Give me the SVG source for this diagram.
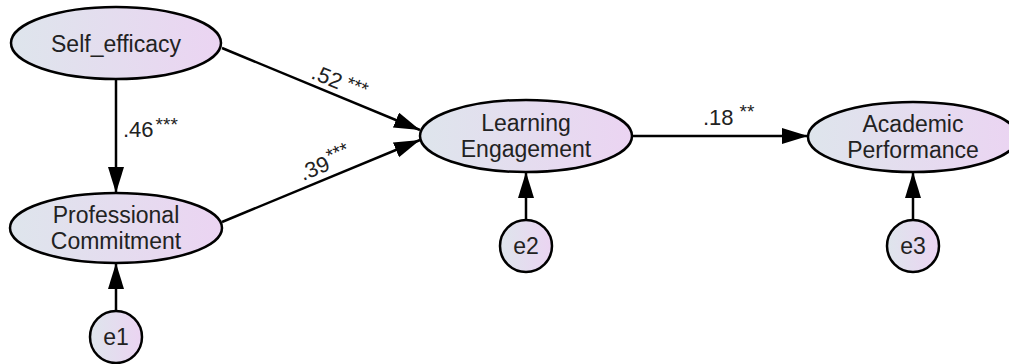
<svg xmlns="http://www.w3.org/2000/svg" width="1009" height="364" viewBox="0 0 1009 364">
  <defs>
    <linearGradient id="latentFill" x1="0" y1="0" x2="1" y2="0">
      <stop offset="0" stop-color="#dee5ec"/>
      <stop offset="1" stop-color="#ebd4f2"/>
    </linearGradient>
    <marker id="arrow" markerUnits="userSpaceOnUse" markerWidth="28" markerHeight="18" refX="26" refY="8" orient="auto">
      <path d="M0,0 L26,8 L0,16 Z" fill="#000"/>
    </marker>
  </defs>
  <style>
    .latent { fill: url(#latentFill); stroke: #000; stroke-width: 2.5; }
    .label { font-family: "Liberation Sans", Arial, sans-serif; font-size: 23px; fill: #222; text-anchor: middle; }
    .coef { font-family: "Liberation Sans", Arial, sans-serif; font-size: 22px; fill: #222; }
    .sig { font-size: 19px; }
    .path { stroke: #000; stroke-width: 2.5; fill: none; marker-end: url(#arrow); }
  </style>
  <rect width="1009" height="364" fill="#fff"/>

  <!-- regression paths -->
  <g id="connectors">
    <line class="path" x1="116" y1="80" x2="116" y2="193"/>
    <line class="path" x1="222" y1="48" x2="420" y2="130"/>
    <line class="path" x1="222" y1="222" x2="420" y2="140"/>
    <line class="path" x1="632" y1="136" x2="808" y2="136"/>
    <line class="path" x1="116" y1="311" x2="116" y2="263"/>
    <line class="path" x1="526" y1="220" x2="526" y2="172"/>
    <line class="path" x1="913" y1="220" x2="913" y2="172"/>

    <!-- standardized coefficients -->
    <text class="coef" x="123" y="137">.46<tspan class="sig" dx="2" dy="-6">***</tspan></text>
    <text class="coef" transform="translate(310,78) rotate(22.5)">.52<tspan class="sig" dx="5" dy="-4">***</tspan></text>
    <text class="coef" transform="translate(303,181) rotate(-22.5)">.39<tspan class="sig" dx="1" dy="-7">***</tspan></text>
    <text class="coef" x="703" y="125">.18<tspan class="sig" dx="6" dy="-7">**</tspan></text>
  </g>

  <g id="self_efficacy">
    <ellipse class="latent" cx="116" cy="43" rx="105" ry="36"/>
    <text class="label" x="116" y="52">Self_efficacy</text>
  </g>

  <g id="professional_commitment">
    <ellipse class="latent" cx="116" cy="228" rx="106" ry="35"/>
    <text class="label" x="116" y="223">Professional</text>
    <text class="label" x="116" y="249">Commitment</text>
  </g>

  <g id="learning_engagement">
    <ellipse class="latent" cx="526" cy="136" rx="106" ry="36"/>
    <text class="label" x="526" y="131">Learning</text>
    <text class="label" x="526" y="157">Engagement</text>
  </g>

  <g id="academic_performance">
    <ellipse class="latent" cx="913" cy="137" rx="105" ry="35"/>
    <text class="label" x="913" y="132">Academic</text>
    <text class="label" x="913" y="158">Performance</text>
  </g>

  <g id="e1">
    <circle class="latent" cx="116" cy="337" r="26"/>
    <text class="label" x="116" y="345">e1</text>
  </g>

  <g id="e2">
    <circle class="latent" cx="526" cy="246" r="26"/>
    <text class="label" x="526" y="254">e2</text>
  </g>

  <g id="e3">
    <circle class="latent" cx="913" cy="246" r="26"/>
    <text class="label" x="913" y="254">e3</text>
  </g>
</svg>
